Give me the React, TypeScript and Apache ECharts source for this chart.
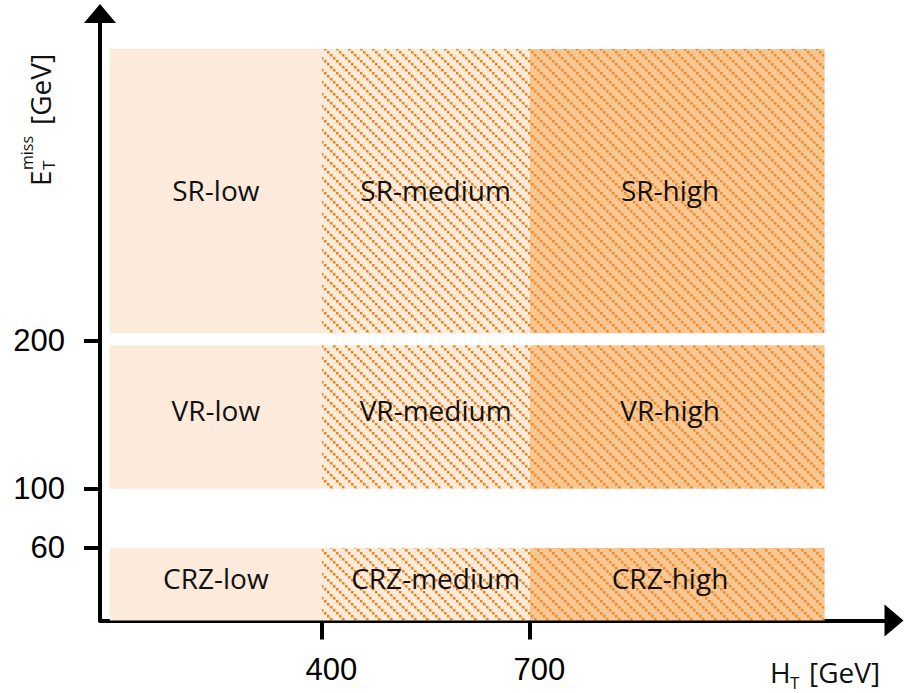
import React, { useEffect, useRef } from "react";
import * as echarts from "echarts";

// Schematic axis values (value units on the schematic axes)
const columnNames = ["low", "medium", "high"];
const columnFrom = [94, 400, 700];
const columnTo = [400, 700, 1125];
const columnLabelAt = [247, 564, 902];

const rowNames = ["SR", "VR", "CRZ"];
const rowFrom = [205, 100, 11];
const rowTo = [397, 197, 60];
const rowLabelAt = [302, 153, 40];

const xTicks = [400, 700];
const yTicks = [60, 100, 200];
const xMin = 80;
const xMax = 1225;
const yMin = 11;
const yMax = 421;

const LABEL_FONT = '"Open Sans", "Noto Sans", sans-serif';
const TICK_FONT = '"Liberation Sans", Arial, sans-serif';

function makePattern(bg: string, halo: string, dot: string) {
  const size = 12;
  const c = document.createElement("canvas");
  c.width = size;
  c.height = size;
  const ctx = c.getContext("2d")!;
  ctx.fillStyle = bg;
  ctx.fillRect(0, 0, size, size);
  for (let i = 0; i < 4; i++) {
    ctx.fillStyle = halo;
    ctx.fillRect(i * 3, i * 3, 3, 3);
    ctx.fillStyle = dot;
    ctx.fillRect(i * 3, i * 3, 2, 2);
  }
  return { image: c, repeat: "repeat", imageWidth: size, imageHeight: size } as any;
}

export default function App() {
  const ref = useRef<HTMLDivElement>(null);
  useEffect(() => {
    if (!ref.current) return;
    const chart = echarts.init(ref.current, undefined, { renderer: "svg" });

    const fills: any[] = [
      "#FCEADB",
      makePattern("#FCEADB", "#F6B77A", "#EF8212"),
      makePattern("#F9C792", "#F4A760", "#F08C2A"),
    ];

    const data: number[][] = [];
    const labels: string[] = [];
    rowNames.forEach((r, ri) => {
      columnNames.forEach((cn, ci) => {
        data.push([
          columnFrom[ci],
          columnTo[ci],
          rowFrom[ri],
          rowTo[ri],
          columnLabelAt[ci],
          rowLabelAt[ri],
          ci,
        ]);
        labels.push(`${r}-${cn}`);
      });
    });

    const option: any = {
      animation: false,
      grid: { left: 100, right: 10, top: 13.5, bottom: 72.5, containLabel: false },
      xAxis: {
        type: "value",
        min: xMin,
        max: xMax,
        splitLine: { show: false },
        axisLine: {
          onZero: false,
          lineStyle: { color: "#000", width: 4 },
          symbol: ["none", "triangle"],
          symbolSize: [32, 19],
        },
        axisTick: {
          show: true,
          length: 19,
          inside: false,
          customValues: xTicks,
          lineStyle: { color: "#000", width: 4 },
        },
        axisLabel: {
          customValues: xTicks,
          margin: 33,
          fontSize: 31,
          fontFamily: TICK_FONT,
          color: "#000",
          padding: [0, 0, 0, 19],
        },
      },
      yAxis: {
        type: "value",
        min: yMin,
        max: yMax,
        splitLine: { show: false },
        axisLine: {
          onZero: false,
          lineStyle: { color: "#000", width: 4 },
          symbol: ["none", "triangle"],
          symbolSize: [32, 19],
        },
        axisTick: {
          show: true,
          length: 16,
          inside: false,
          customValues: yTicks,
          lineStyle: { color: "#000", width: 4 },
        },
        axisLabel: {
          customValues: yTicks,
          margin: 35,
          fontSize: 31,
          fontFamily: TICK_FONT,
          color: "#000",
        },
      },
      series: [
        {
          type: "custom",
          clip: false,
          encode: { x: [0, 1, 4], y: [2, 3, 5] },
          data,
          renderItem: (params: any, api: any) => {
            const p0 = api.coord([api.value(0), api.value(3)]);
            const p1 = api.coord([api.value(1), api.value(2)]);
            const lp = api.coord([api.value(4), api.value(5)]);
            const ci = api.value(6);
            return {
              type: "group",
              children: [
                {
                  type: "rect",
                  shape: { x: p0[0], y: p0[1], width: p1[0] - p0[0], height: p1[1] - p0[1] },
                  style: { fill: fills[ci] },
                },
                {
                  type: "text",
                  x: lp[0],
                  y: lp[1],
                  style: {
                    text: labels[params.dataIndex],
                    fill: "#111",
                    fontSize: 28,
                    fontFamily: LABEL_FONT,
                    align: "center",
                    verticalAlign: "middle",
                  },
                },
              ],
            };
          },
        },
      ],
      graphic: [
        {
          type: "group",
          x: 770,
          y: 672,
          children: [
            {
              type: "text",
              x: 0,
              y: 0,
              style: { text: "H", fill: "#111", fontSize: 28, fontFamily: LABEL_FONT, align: "left", verticalAlign: "middle" },
            },
            {
              type: "text",
              x: 20,
              y: 10,
              style: { text: "T", fill: "#111", fontSize: 17, fontFamily: LABEL_FONT, align: "left", verticalAlign: "middle" },
            },
            {
              type: "text",
              x: 39,
              y: 0,
              style: { text: "[GeV]", fill: "#111", fontSize: 28, fontFamily: LABEL_FONT, align: "left", verticalAlign: "middle" },
            },
          ],
        },
        {
          type: "group",
          x: 50,
          y: 186,
          rotation: Math.PI / 2,
          children: [
            {
              type: "text",
              x: 0,
              y: -10,
              style: { text: "E", fill: "#111", fontSize: 28, fontFamily: LABEL_FONT, align: "left", verticalAlign: "middle" },
            },
            {
              type: "text",
              x: 16,
              y: -2,
              style: { text: "T", fill: "#111", fontSize: 17, fontFamily: LABEL_FONT, align: "left", verticalAlign: "middle" },
            },
            {
              type: "text",
              x: 16,
              y: -23,
              style: { text: "miss", fill: "#111", fontSize: 16, fontFamily: LABEL_FONT, align: "left", verticalAlign: "middle" },
            },
            {
              type: "text",
              x: 61,
              y: -10,
              style: { text: "[GeV]", fill: "#111", fontSize: 28, fontFamily: LABEL_FONT, align: "left", verticalAlign: "middle" },
            },
          ],
        },
      ],
    };
    chart.setOption(option);
    return () => chart.dispose();
  }, []);
  return (
    <div
      ref={ref}
      style={{ position: "fixed", left: 0, top: 0, width: 904, height: 693, background: "#fff" }}
    />
  );
}
